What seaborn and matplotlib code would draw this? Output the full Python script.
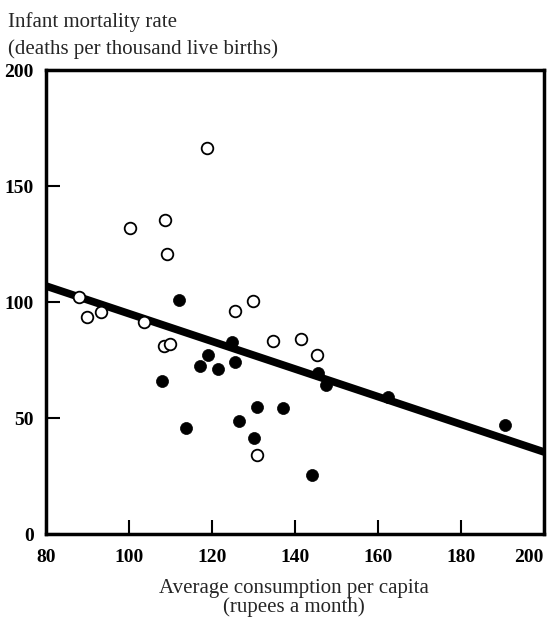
import numpy as np
import pandas as pd
import matplotlib
matplotlib.use('Agg')
import matplotlib.pyplot as plt
import seaborn as sns

# consumption (rupees a month) vs infant mortality
open_x = [118.7, 100.2, 108.7, 109.1, 129.8, 125.5, 89.8, 93.2, 87.8, 103.6,
          108.3, 109.9, 134.6, 141.4, 145.2, 130.8]
open_y = [166.4, 131.8, 135.3, 120.7, 100.6, 96.3, 93.7, 95.8, 102.0, 91.5,
          81.0, 82.0, 83.2, 84.3, 77.4, 34.3]

filled_x = [112.1, 124.8, 119.0, 117.1, 121.5, 125.6, 107.9, 113.7, 126.6, 130.8,
            130.0, 137.2, 144.1, 145.6, 147.5, 162.5, 190.7]
filled_y = [100.9, 82.6, 77.2, 72.4, 71.0, 74.1, 65.8, 45.7, 48.7, 54.7,
            41.2, 54.3, 25.6, 69.5, 64.2, 59.2, 47.0]

# regression line
trend_x = [80, 200]
trend_intercept = 154.6
trend_slope = -0.596

x_ticks = [80, 100, 120, 140, 160, 180, 200]
y_ticks = [0, 50, 100, 150, 200]

sns.set_style('ticks')
plt.rcParams['font.family'] = ['Liberation Serif', 'DejaVu Serif']

fig = plt.figure(figsize=(5.5, 6.21), dpi=100)
ax = fig.add_axes([0.084, 0.14, 0.905, 0.747])

trend = pd.DataFrame({'x': trend_x})
trend['y'] = trend_intercept + trend_slope * trend['x']
sns.lineplot(data=trend, x='x', y='y', ax=ax, color='black', linewidth=5.5,
             zorder=2)

sns.scatterplot(x=open_x, y=open_y, ax=ax, marker='o', s=70,
                facecolor='white', edgecolor='black', linewidth=1.3, zorder=3)
sns.scatterplot(x=filled_x, y=filled_y, ax=ax, marker='o', s=75,
                color='black', edgecolor='black', linewidth=0.5, zorder=4)

ax.set_xlim(80, 200)
ax.set_ylim(0, 200)
ax.set_xticks(x_ticks)
ax.set_yticks(y_ticks)
ax.set_xlabel('')
ax.set_ylabel('')
ax.tick_params(direction='in', length=10, width=1.5, colors='black',
               labelsize=14, pad=11)
ax.tick_params(axis='y', pad=9)
for lab in ax.get_xticklabels() + ax.get_yticklabels():
    lab.set_fontweight('bold')
# last x label sits inside the figure edge, as in the original
ax.get_xticklabels()[-1].set_horizontalalignment('right')
for sp in ax.spines.values():
    sp.set_visible(True)
    sp.set_linewidth(2.5)
    sp.set_color('black')

fig.text(0.015, 0.965, 'Infant mortality rate', fontsize=15, va='center',
         ha='left')
fig.text(0.015, 0.921, '(deaths per thousand live births)', fontsize=15,
         va='center', ha='left')

fig.text(0.535, 0.053, 'Average consumption per capita', fontsize=15,
         ha='center', va='center')
fig.text(0.535, 0.022, '(rupees a month)', fontsize=15, ha='center',
         va='center')

fig.savefig('out.png', dpi=100)
